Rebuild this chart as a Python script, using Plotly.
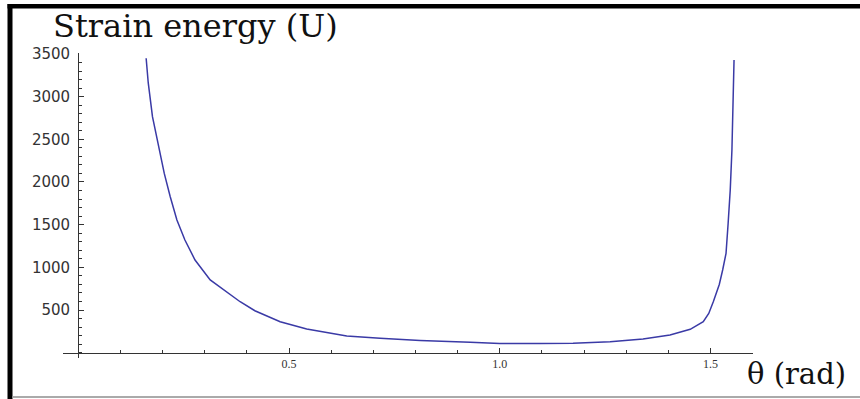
import plotly.graph_objects as go

# Data
theta = [0.161, 0.166, 0.176, 0.190, 0.204, 0.218, 0.234, 0.253, 0.277, 0.313,
         0.368, 0.384, 0.419, 0.479, 0.542, 0.637, 0.716, 0.811, 0.930, 1.000,
         1.095, 1.174, 1.262, 1.340, 1.404, 1.452, 1.483, 1.496, 1.507, 1.521,
         1.529, 1.537, 1.542, 1.547, 1.551, 1.553, 1.556]
U = [3450, 3160, 2765, 2413, 2100, 1830, 1555, 1320, 1086, 852,
     656, 597, 492, 363, 278, 196, 169, 143, 122, 108,
     108, 110, 129, 160, 207, 274, 363, 460, 600, 800,
     969, 1164, 1516, 1906, 2375, 2785, 3430]

x_tickvals = [0.5, 1.0, 1.5]
x_ticktext = ["0.5", "1.0", "1.5"]
y_tickvals = [500, 1000, 1500, 2000, 2500, 3000, 3500]
y_ticktext = ["500", "1000", "1500", "2000", "2500", "3000", "3500"]

W, H = 860, 399
# plot area in page pixels: x 63..753, y 53..358
L = 63
R = W - 753
T = 53
B = H - 358
PW, PH = W - L - R, H - T - B


def px(xp):  # page pixel x -> paper
    return (xp - L) / PW


def py(yp):  # page pixel y -> paper
    return (H - B - yp) / PH


fig = go.Figure()
fig.add_trace(go.Scatter(x=theta, y=U, mode="lines",
                         line=dict(color="#3a3aa6", width=1.5),
                         showlegend=False, hoverinfo="skip"))

axis_col = "#333333"
fig.update_layout(
    width=W, height=H,
    margin=dict(l=L, r=R, t=T, b=B, pad=0),
    paper_bgcolor="white", plot_bgcolor="white",
    xaxis=dict(range=[-0.0363, 1.601], showgrid=False, zeroline=False,
               showline=True, linecolor=axis_col, linewidth=1.3,
               anchor="free", position=py(352.7),
               tickmode="array", tickvals=x_tickvals, ticktext=x_ticktext,
               ticks="inside", ticklen=5, tickwidth=1.2, tickcolor=axis_col,
               minor=dict(ticks="inside", dtick=0.1, tick0=0, ticklen=2.5,
                          tickwidth=1.2, tickcolor=axis_col),
               tickfont=dict(family="Liberation Serif", size=12, color="#333333")),
    yaxis=dict(range=[-62, 3511], showgrid=False, zeroline=False,
               showline=True, linecolor=axis_col, linewidth=1.3,
               anchor="free", position=px(78.3),
               tickmode="array", tickvals=y_tickvals, ticktext=y_ticktext,
               ticks="inside", ticklen=5, tickwidth=1.2, tickcolor=axis_col,
               ticklabelstandoff=5,
               minor=dict(ticks="inside", dtick=100, tick0=0, ticklen=3,
                          tickwidth=1.1, tickcolor=axis_col),
               tickfont=dict(family="DejaVu Sans", size=15, color="#333333")),
)

fig.add_annotation(text="Strain energy (U)", xref="paper", yref="paper",
                   x=px(51), y=py(26), xanchor="left", yanchor="middle",
                   showarrow=False,
                   font=dict(family="DejaVu Serif", size=32, color="#111111"))
fig.add_annotation(text="θ (rad)", xref="paper", yref="paper",
                   x=px(745), y=py(374), xanchor="left", yanchor="middle",
                   showarrow=False,
                   font=dict(family="DejaVu Serif", size=29, color="#111111"))

# frame
fig.add_shape(type="rect", xref="paper", yref="paper",
              x0=px(7.5), x1=px(12.5), y0=py(400), y1=py(4),
              fillcolor="black", line=dict(width=0))
fig.add_shape(type="rect", xref="paper", yref="paper",
              x0=px(7.5), x1=px(861), y0=py(8.5), y1=py(4),
              fillcolor="black", line=dict(width=0))
fig.add_shape(type="line", xref="paper", yref="paper",
              x0=px(12.5), x1=px(861), y0=py(397), y1=py(397),
              line=dict(color="#aaaaaa", width=2))

fig.write_html("out.html",
               config={"displayModeBar": False},
               post_script="document.body.style.margin='0';document.body.style.overflow='hidden';")
